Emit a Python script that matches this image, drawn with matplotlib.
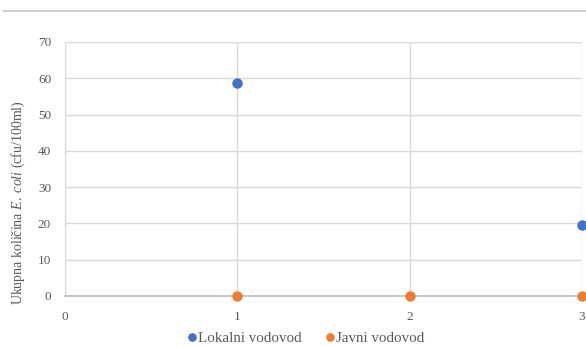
import matplotlib.pyplot as plt
from matplotlib.lines import Line2D

# sampling points and E. coli counts per water supply type
x_points = [1, 2, 3]
lokalni = [58.7, None, 19.6]
javni = [0, 0, 0]
series_names = ["Lokalni vodovod", "Javni vodovod"]
y_ticks = [0, 10, 20, 30, 40, 50, 60, 70]
x_ticks = [0, 1, 2, 3]

blue = "#4472C4"
orange = "#ED7D31"
text_col = "#595959"

plt.rcParams["font.family"] = ["Liberation Serif", "DejaVu Serif"]
plt.rcParams["mathtext.fontset"] = "custom"
plt.rcParams["mathtext.rm"] = "Liberation Serif"
plt.rcParams["mathtext.it"] = "Liberation Serif:italic"

fig = plt.figure(figsize=(5.86, 3.47), dpi=100)
ax = fig.add_axes([0.111, 0.147, 0.882, 0.732])

lx = [x for x, v in zip(x_points, lokalni) if v is not None]
ly = [v for v in lokalni if v is not None]
ax.plot(lx, ly, "o", color=blue, markersize=6.5, clip_on=False, zorder=3,
        label=series_names[0])
ax.plot(x_points, javni, "o", color=orange, markersize=6.5, clip_on=False,
        zorder=3, label=series_names[1])

ax.set_xlim(0, 3)
ax.set_ylim(0, 70)
ax.set_xticks(x_ticks)
ax.set_yticks(y_ticks)
ax.grid(True, color="#D9D9D9", linewidth=1)
ax.set_axisbelow(True)
ax.tick_params(length=0, labelsize=9.5, labelcolor=text_col)
ax.tick_params(axis="y", pad=10)
ax.tick_params(axis="x", pad=11)

for side in ["top", "right"]:
    ax.spines[side].set_visible(False)
ax.spines["left"].set_color("#D9D9D9")
ax.spines["bottom"].set_color("#BFBFBF")
ax.spines["bottom"].set_linewidth(1.2)

fig.text(18 / 586, 1 - 203 / 347,
         r"Ukupna količina $\mathit{E.\ coli}$ (cfu/100ml)",
         rotation=90, ha="center", va="center", fontsize=10, color=text_col)

fig.legend(loc="center", bbox_to_anchor=(0.52, 0.024), ncol=2,
           frameon=False, fontsize=10.8, labelcolor=text_col,
           handletextpad=0.0, columnspacing=1.4, markerscale=0.8,
           handlelength=0.9)

# thin frame line across the top
fig.add_artist(Line2D([0.007, 1.0], [0.968, 0.968], color="#D0D0D0",
                      linewidth=1.5, transform=fig.transFigure))

fig.savefig("out.png", dpi=100)
